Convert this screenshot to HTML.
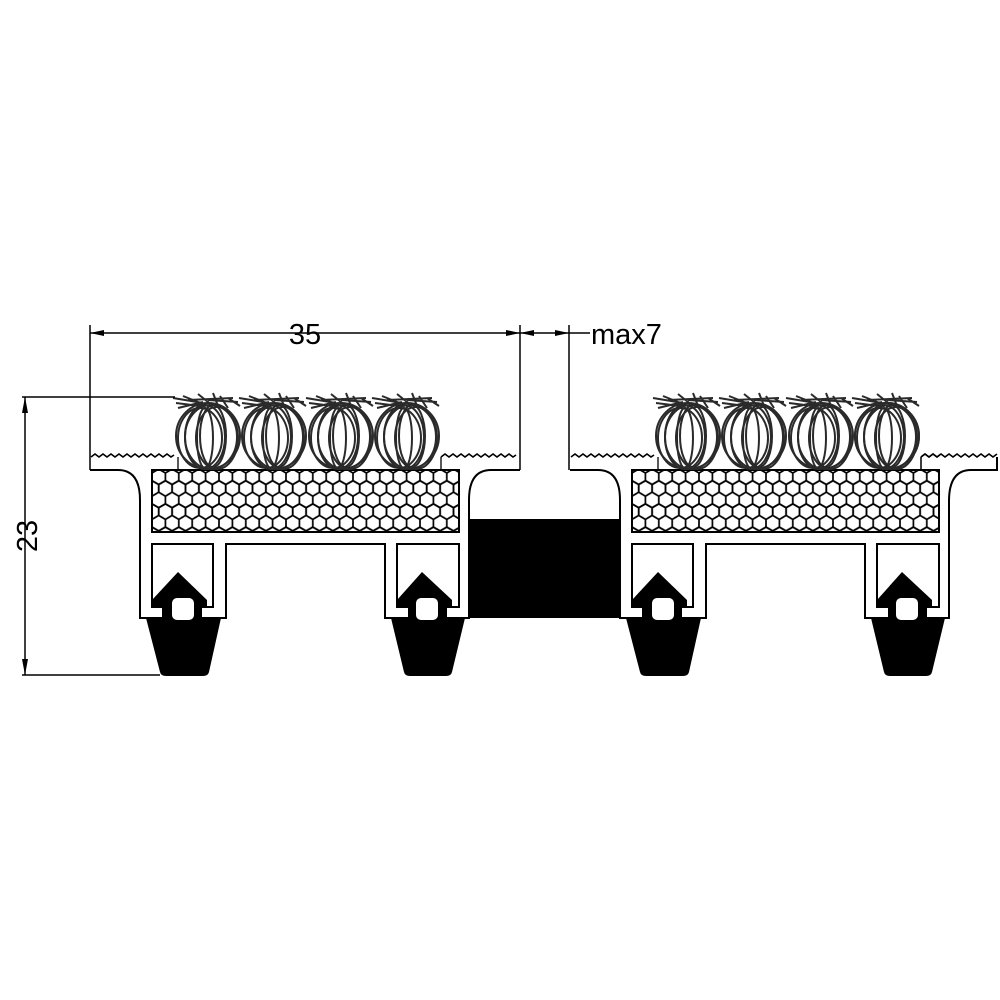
<!DOCTYPE html>
<html><head><meta charset="utf-8"><style>
html,body{margin:0;padding:0;background:#fff;}
svg{display:block;}
</style></head><body>
<svg width="1000" height="1000" viewBox="0 0 1000 1000" xmlns="http://www.w3.org/2000/svg">
<defs>
<pattern id="hex" x="152" y="471" width="13.4" height="23.2" patternUnits="userSpaceOnUse">
<rect width="13.4" height="23.2" fill="#fff"/>
<g fill="none" stroke="#000" stroke-width="1.7">
<polygon points="6.7,-1.9 13.4,2 13.4,9.6 6.7,13.5 0,9.6 0,2"/>
<polygon points="0,9.7 6.7,13.6 6.7,21.2 0,25.1 -6.7,21.2 -6.7,13.6"/>
<polygon points="13.4,9.7 20.1,13.6 20.1,21.2 13.4,25.1 6.7,21.2 6.7,13.6"/>
</g>
</pattern>
<g id="tuft" fill="none" stroke="#2a2a2a" stroke-width="2">
<ellipse cx="0" cy="0" rx="32" ry="33"/>
<ellipse cx="3" cy="1" rx="26" ry="32"/>
<ellipse cx="-3" cy="1" rx="20" ry="32"/>
<ellipse cx="5" cy="0" rx="13" ry="31"/>
<ellipse cx="-3" cy="2" rx="8" ry="30"/>
<ellipse cx="9" cy="2" rx="21" ry="31"/>
<ellipse cx="-8" cy="2" rx="22" ry="30"/>
<path d="M-32,-33 L-8,-30 M-25,-40 L0,-30 M-10,-42 L5,-30 M5,-43 L10,-30 M12,-40 L20,-28 M20,-38 L32,-30 M-30,-28 L-5,-34 M0,-36 L30,-34 M-20,-36 L25,-38 M-35,-38 L-5,-33"/>
</g>
<g id="prof">
<path d="M90,470 L118,470 Q140,470 140,500 L140,618 L163,618 L163,607 L152,607 L152,544 L213,544 L213,607 L201,607 L201,618 L226,618 L226,544 L385,544 L385,618 L409,618 L409,607 L397,607 L397,544 L459,544 L459,607 L446,607 L446,618 L469,618 L469,500 Q469,470 491,470 L520,470" fill="#fff" stroke="#000" stroke-width="2"/>
<rect x="152" y="470" width="307" height="62" fill="url(#hex)" stroke="#000" stroke-width="2"/>
<g fill="#000">
<path d="M178,572 L152,600 L152,607 L163,607 L163,618 L146,618 L160,672 Q161,676 166,676 L203,676 Q208,676 209,672 L221,618 L201,618 L201,607 L207,607 L207,600 Z"/>
<path d="M422,572 L397,600 L397,607 L409,607 L409,618 L391,618 L404,672 Q405,676 410,676 L446,676 Q451,676 452,672 L465,618 L446,618 L446,607 L452,607 L452,600 Z"/>
</g>
<rect x="172" y="598" width="22" height="22" rx="5" fill="#fff"/>
<rect x="416" y="598" width="22" height="22" rx="5" fill="#fff"/>
<path d="M91,457 l4,-3 l4,3 l4,-3 l4,3 l4,-3 l4,3 l4,-3 l4,3 l4,-3 l4,3 l4,-3 l4,3 l4,-3 l4,3 l4,-3 l4,3 l4,-3 l4,3 l4,-3 l4,3 l3,-2" fill="none" stroke="#000" stroke-width="1.6"/>
<path d="M441,457 l4,-3 l4,3 l4,-3 l4,3 l4,-3 l4,3 l4,-3 l4,3 l4,-3 l4,3 l4,-3 l4,3 l4,-3 l4,3 l4,-3 l4,3 l4,-3 l4,3 l3,-2" fill="none" stroke="#000" stroke-width="1.6"/>
<path d="M178,470 L178,457 M441,470 L441,457" stroke="#000" stroke-width="1.3"/>
<use href="#tuft" x="208" y="436"/>
<use href="#tuft" x="274" y="436"/>
<use href="#tuft" x="341" y="436"/>
<use href="#tuft" x="407" y="436"/>
</g>
</defs>

<rect x="469" y="519" width="152" height="99" fill="#000"/>
<use href="#prof"/>
<g transform="translate(480,0)">
<use href="#prof"/>
</g>
<rect x="940" y="440" width="60" height="59" fill="#fff"/>
<path d="M949,501 Q949,470 971,470 L997,470 L997,457" fill="none" stroke="#000" stroke-width="2"/>
<path d="M921,457 l4,-3 l4,3 l4,-3 l4,3 l4,-3 l4,3 l4,-3 l4,3 l4,-3 l4,3 l4,-3 l4,3 l4,-3 l4,3 l4,-3 l4,3 l4,-3 l4,3 l4,-3" fill="none" stroke="#000" stroke-width="1.6"/>
<path d="M921,470 L921,457" stroke="#000" stroke-width="1.3"/>
<g transform="translate(480,0)" fill="none" stroke="#2a2a2a" stroke-width="2">
<ellipse cx="407" cy="436" rx="32" ry="33"/>
<ellipse cx="416" cy="438" rx="21" ry="31"/>
</g>

<g stroke="#000" stroke-width="1.5" fill="none">
<path d="M90,325 L90,470 M520,325 L520,470 M569,325 L569,470"/>
<path d="M90,333 L520,333 M520,333 L590,333"/>
<path d="M22,397 L175,397 M22,675 L160,675 M25,397 L25,675"/>
</g>
<g fill="#000">
<path d="M90,333 l14,-3 l0,6 z M520,333 l-14,-3 l0,6 z"/>
<path d="M520,333 l14,-3 l0,6 z M569,333 l-14,-3 l0,6 z"/>
<path d="M25,397 l-3,16 l6,0 z M25,675 l-3,-16 l6,0 z"/>
</g>
<g font-family="Liberation Sans, sans-serif" font-size="29" fill="#000">
<text x="305" y="344" text-anchor="middle">35</text>
<text x="591" y="344">max7</text>
<text transform="translate(37,536) rotate(-90)" text-anchor="middle">23</text>
</g>
</svg>
</body></html>
